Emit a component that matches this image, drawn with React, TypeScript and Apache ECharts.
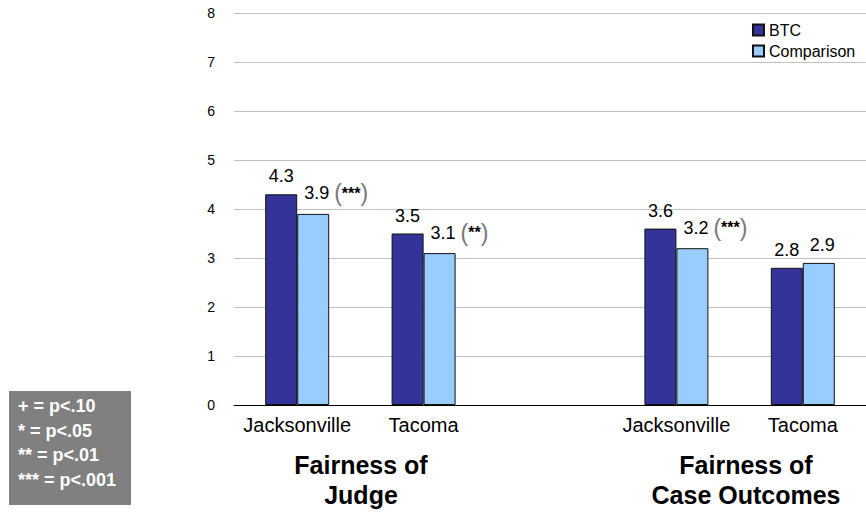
import React, { useEffect, useRef } from "react";
import * as echarts from "echarts";

const categories = ["Jacksonville", "Tacoma", "", "Jacksonville", "Tacoma"];
const btcValues = [4.3, 3.5, null, 3.6, 2.8];
const comparisonValues = [3.9, 3.1, null, 3.2, 2.9];
const significance = ["***", "**", "", "***", ""];
const groupTitles = ["Fairness of\nJudge", "Fairness of\nCase Outcomes"];
const keyLines = ["+ = p<.10", "* = p<.05", "** = p<.01", "*** = p<.001"];
const FONT = "'Liberation Sans', Arial, sans-serif";

export default function App() {
  const ref = useRef<HTMLDivElement>(null);
  useEffect(() => {
    if (!ref.current) return;
    const chart = echarts.init(ref.current, null, { renderer: "svg" });
    chart.setOption({
      animation: false,
      textStyle: { fontFamily: FONT },
      grid: { left: 234, top: 13, width: 638, height: 392, containLabel: false },
      legend: {
        orient: "vertical",
        left: 747,
        top: 17,
        itemWidth: 11,
        itemHeight: 11,
        itemGap: 5,
        icon: "rect",
        textStyle: { fontFamily: FONT, fontSize: 16, color: "#000" },
        data: ["BTC", "Comparison"],
      },
      xAxis: {
        type: "category",
        data: categories,
        axisLine: { lineStyle: { color: "#000", width: 1 } },
        axisTick: { show: false },
        axisLabel: { fontFamily: FONT, fontSize: 20, color: "#000", margin: 10, interval: 0 },
      },
      yAxis: {
        type: "value",
        min: 0,
        max: 8,
        interval: 1,
        axisLine: { show: false },
        axisTick: { show: false },
        axisLabel: { fontFamily: FONT, fontSize: 14, color: "#000", margin: 19 },
        splitLine: { lineStyle: { color: "#c0c0c0", width: 1 } },
      },
      series: [
        {
          name: "BTC",
          type: "bar",
          data: btcValues,
          barWidth: 32,
          barGap: "0%",
          itemStyle: { color: "#333399", borderColor: "#111", borderWidth: 1 },
          label: {
            show: true,
            position: "top",
            distance: 9,
            fontFamily: FONT,
            fontSize: 18,
            color: "#000",
          },
        },
        {
          name: "Comparison",
          type: "bar",
          data: comparisonValues,
          barWidth: 32,
          barGap: "0%",
          itemStyle: { color: "#99ccff", borderColor: "#111", borderWidth: 1 },
          label: {
            show: true,
            position: "top",
            distance: 9,
            align: "left",
            offset: [-9, 0],
            fontFamily: FONT,
            fontSize: 18,
            color: "#000",
            formatter: (p: any) => {
              const s = significance[p.dataIndex];
              return s ? `{v|${p.value}} {p|(}{s|${s}}{p|)}` : `{v|${p.value}}`;
            },
            rich: {
              v: { fontFamily: FONT, fontSize: 18, color: "#000" },
              p: { fontFamily: FONT, fontSize: 23, color: "#777" },
              s: { fontFamily: FONT, fontSize: 16, fontWeight: "bold", color: "#000" },
            },
          },
        },
      ],
      graphic: [
        {
          type: "text",
          x: 361,
          y: 450,
          style: {
            text: groupTitles[0],
            textAlign: "center",
            fontFamily: FONT,
            fontSize: 25,
            fontWeight: "bold",
            lineHeight: 30,
            fill: "#000",
          },
        },
        {
          type: "text",
          x: 746,
          y: 450,
          style: {
            text: groupTitles[1],
            textAlign: "center",
            fontFamily: FONT,
            fontSize: 25,
            fontWeight: "bold",
            lineHeight: 30,
            fill: "#000",
          },
        },
        {
          type: "group",
          x: 9,
          y: 391,
          children: [
            { type: "rect", shape: { x: 0, y: 0, width: 122, height: 114 }, style: { fill: "#808080" } },
            ...keyLines.map((t, i) => ({
              type: "text",
              x: 9,
              y: 6 + i * 24.5,
              style: {
                text: t,
                fontFamily: FONT,
                fontSize: 18,
                fontWeight: "bold",
                fill: "#fff",
              },
            })),
          ],
        },
      ],
    });
    return () => chart.dispose();
  }, []);
  return <div ref={ref} style={{ width: 866, height: 514, position: "absolute", left: 0, top: 0 }} />;
}
